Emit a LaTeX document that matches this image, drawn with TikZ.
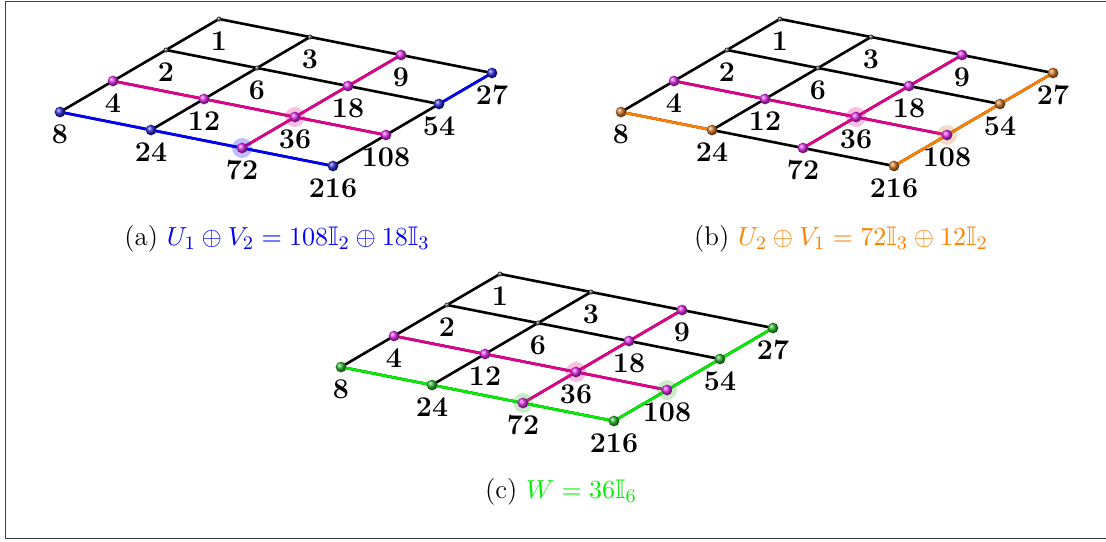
\documentclass[tikz,border=0pt]{standalone}
\usepackage{amssymb}
\definecolor{magl}{RGB}{228,0,140}
\definecolor{bluel}{RGB}{0,0,255}
\definecolor{orgl}{RGB}{255,128,0}
\definecolor{grnl}{RGB}{0,240,0}
\definecolor{blueball}{RGB}{40,40,210}
\definecolor{orgball}{RGB}{205,115,35}
\definecolor{grnball}{RGB}{40,175,40}
\definecolor{magball}{RGB}{220,40,230}
\tikzset{
  edge/.style={line width=1.1pt, line cap=round},
  blk/.style={edge, black},
  ballnode/.style={circle, inner sep=0pt, minimum size=4.5pt, ball color=#1},
  dotnode/.style={circle, inner sep=0pt, minimum size=2.1pt, ball color=black!70},
  halo/.style={circle, inner sep=0pt, minimum size=8.4pt, fill=#1, fill opacity=0.25},
  lbl/.style={font=\fontsize{12}{14}\selectfont\bfseries, inner sep=0pt},
  captext/.style={font=\fontsize{11.3}{13.6}\selectfont, inner sep=0pt},
}
\newcommand\mkpanel[3]{%
  \foreach \i in {0,...,3}{\foreach \j in {0,...,3}{
    \pgfmathtruncatemacro\v{2^\i*3^\j}
    \coordinate (#1-\v) at ({#2+219-53*\i+91*\j},{#3+19+31*\i+18*\j});
    \node[lbl] (#1-l\v) at ({#2+219-53*\i+91*\j},{#3+41.5+31*\i+18*\j}) {\v};
  }}
  \foreach \i in {0,...,3}{
    \pgfmathtruncatemacro\a{2^\i}\pgfmathtruncatemacro\b{27*2^\i}
    \draw[blk] (#1-\a) -- (#1-\b);
    \pgfmathtruncatemacro\c{3^\i}\pgfmathtruncatemacro\d{8*3^\i}
    \draw[blk] (#1-\c) -- (#1-\d);
  }
  \draw[edge, magl] (#1-4) -- (#1-12) -- (#1-36) -- (#1-108);
  \draw[edge, magl] (#1-9) -- (#1-18) -- (#1-36) -- (#1-72);
}
\newcommand\mkballs[1]{%
  \foreach \v in {1,2,3,6}{\node[dotnode] (#1-d\v) at (#1-\v) {};}
  \node[halo=magl] (#1-h36) at (#1-36) {};
}
\newcommand\magballs[1]{%
  \foreach \v in {4,12,36,108,9,18,72}{\node[ballnode=magball] (#1-b\v) at (#1-\v) {};}
}
\begin{document}
\begin{tikzpicture}[x=0.42pt, y=-0.42pt]
\useasboundingbox (0,0) rectangle (1106,541);
\draw[black!75, line width=0.5pt] (1110,1.5) -- (5.5,1.5) -- (5.5,538.5) -- (1110,538.5);

% ---------- panel (a)
\mkpanel{a}{0}{0}
\draw[edge, bluel] (a-8) -- (a-24) -- (a-72) -- (a-216);
\draw[edge, bluel] (a-27) -- (a-54);
\mkballs{a}
\node[halo=bluel] (a-h72) at (a-72) {};
\magballs{a}
\foreach \v in {8,24,216,27,54}{\node[ballnode=blueball] (a-b\v) at (a-\v) {};}
\node[captext] (capa) at (277,239) {(a) \textcolor{bluel}{$U_1\oplus V_2=108\mathbb{I}_2\oplus18\mathbb{I}_3$}};

% ---------- panel (b)
\mkpanel{b}{561}{0}
\draw[edge, orgl] (b-8) -- (b-24);
\draw[edge, orgl] (b-27) -- (b-54) -- (b-108) -- (b-216);
\mkballs{b}
\node[halo=orgball] (b-h108) at (b-108) {};
\magballs{b}
\foreach \v in {8,24,216,27,54}{\node[ballnode=orgball] (b-b\v) at (b-\v) {};}
\node[captext] (capb) at (841,239) {(b) \textcolor{orgl}{$U_2\oplus V_1=72\mathbb{I}_3\oplus12\mathbb{I}_2$}};

% ---------- panel (c)
\mkpanel{c}{281}{255}
\draw[edge, grnl] (c-8) -- (c-24) -- (c-72) -- (c-216);
\draw[edge, grnl] (c-27) -- (c-54) -- (c-108) -- (c-216);
\mkballs{c}
\node[halo=grnball] (c-h72) at (c-72) {};
\node[halo=grnball] (c-h108) at (c-108) {};
\magballs{c}
\foreach \v in {8,24,216,27,54}{\node[ballnode=grnball] (c-b\v) at (c-\v) {};}
\node[captext] (capc) at (561,492) {(c) \textcolor{grnl}{$W=36\mathbb{I}_6$}};
\end{tikzpicture}
\end{document}
